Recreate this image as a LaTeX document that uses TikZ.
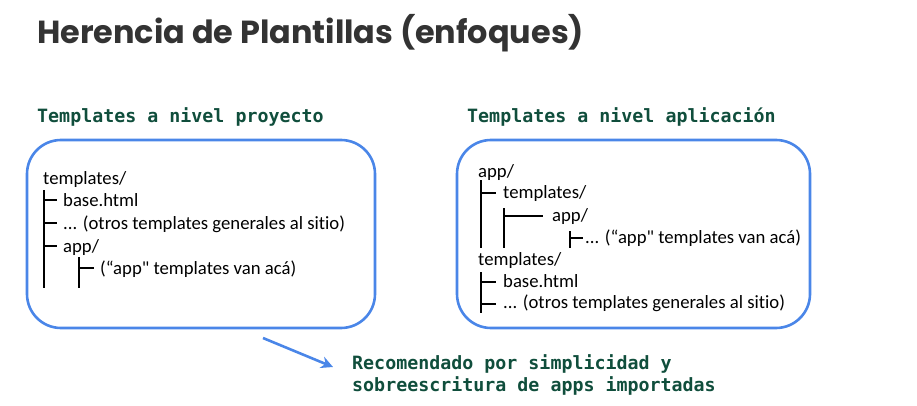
\documentclass[tikz,border=0pt]{standalone}
\usepackage{fontspec}
\setmainfont{Carlito}[Ligatures={NoCommon,TeXOff}]
\newfontfamily\headfont{Poppins}
\newfontfamily\codefont{DejaVu Sans Mono}
\usetikzlibrary{arrows.meta}
\definecolor{slate}{HTML}{333333}
\definecolor{pine}{RGB}{16,78,60}
\definecolor{sky}{HTML}{4A86E8}
\begin{document}
\begin{tikzpicture}[x=1pt,y=-1pt,
  panel/.style={draw=sky, line width=2.6pt, rounded corners=34pt},
  entry/.style={anchor=base west, inner sep=0pt, font=\fontsize{18.7}{20}\selectfont},
  heading/.style={anchor=base west, inner sep=0pt, text=pine, font=\codefont\bfseries\fontsize{18.3}{20}\selectfont},
  branch/.style={line width=2.6pt, line cap=butt},
  pointer/.style={draw=sky, line width=2.6pt, -{Stealth[length=12pt,width=12pt]}},
]
\useasboundingbox (0,0) rectangle (917,406);

% title
\node[anchor=base west, inner sep=0pt, text=slate, font=\headfont\bfseries\fontsize{31.9}{34}\selectfont] (title) at (37,44) {Herencia de Plantillas (enfoques)};

% column headings
\node[heading] (hproj) at (37,123) {Templates a nivel proyecto};
\node[heading] (happ) at (467,123) {Templates a nivel aplicación};

% project-level panel
\draw[panel] (27,140) rectangle (375,328);
\node[entry] (p0) at (43,185) {templates/};
\node[entry] (p1) at (63,206) {base.html};
\node[entry] (p2) at (63,229) {... (otros templates generales al sitio)};
\node[entry] (p3) at (63,252) {app/};
\node[entry] (p4) at (100,274) {(“app" templates van acá)};
\draw[branch] (44,190) -- (44,288);
\draw[branch] (44,200) -- (57,200);
\draw[branch] (44,223) -- (57,223);
\draw[branch] (44,246) -- (57,246);
\draw[branch] (79,257) -- (79,288);
\draw[branch] (79,268) -- (94,268);

% application-level panel
\draw[panel] (457,140) rectangle (810,328);
\node[entry] (a0) at (478,177) {app/};
\node[entry] (a1) at (503,198) {templates/};
\node[entry] (a2) at (552,221) {app/};
\node[entry] (a3) at (585,243) {... (“app" templates van acá)};
\node[entry] (a4) at (478,265) {templates/};
\node[entry] (a5) at (503,287) {base.html};
\node[entry] (a6) at (503,308) {... (otros templates generales al sitio)};
\draw[branch] (481,180) -- (481,248);
\draw[branch] (481,193) -- (496,193);
\draw[branch] (504,208) -- (504,248);
\draw[branch] (504,216) -- (543,216);
\draw[branch] (570,231) -- (570,248);
\draw[branch] (570,238) -- (583,238);
\draw[branch] (481,272) -- (481,313);
\draw[branch] (481,282) -- (496,282);
\draw[branch] (481,304) -- (496,304);

% recommendation
\coordinate (tail) at (263,338);
\node[heading] (rec1) at (352,369) {Recomendado por simplicidad y};
\node[heading] (rec2) at (352,391) {sobreescritura de apps importadas};
\coordinate (tip) at (333,367);
\draw[pointer] (tail) -- (tip);
\end{tikzpicture}
\end{document}
